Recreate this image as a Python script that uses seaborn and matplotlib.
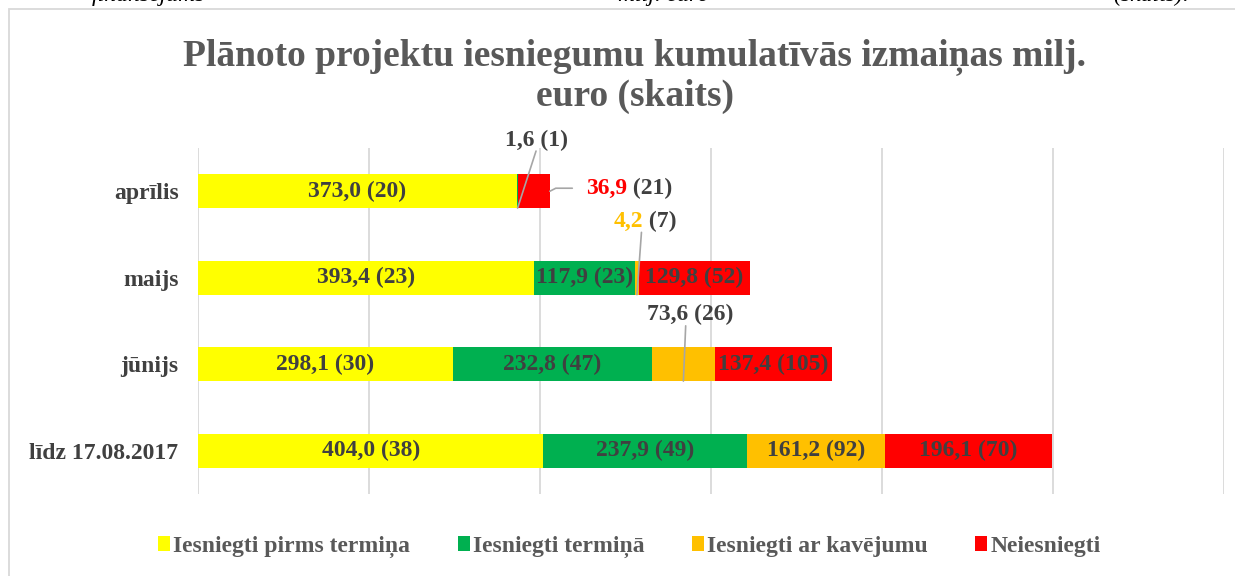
import matplotlib
matplotlib.use("Agg")
import matplotlib.pyplot as plt
import pandas as pd
import seaborn as sns
from matplotlib.patches import Patch, Rectangle

MONTHS = ["aprīlis", "maijs", "jūnijs", "līdz 17.08.2017"]
SERIES = ["Iesniegti pirms termiņa", "Iesniegti termiņā", "Iesniegti ar kavējumu", "Neiesniegti"]
COLORS = ["#FFFF00", "#00B050", "#FFC000", "#FF0000"]

# milj. euro
PIRMS = [373.0, 393.4, 298.1, 404.0]
TERMINA = [1.6, 117.9, 232.8, 237.9]
KAVEJUMS = [0.0, 4.2, 73.6, 161.2]
NEIESNIEGTI = [36.9, 129.8, 137.4, 196.1]

# skaits
PIRMS_N = [20, 23, 30, 38]
TERMINA_N = [1, 23, 47, 49]
KAVEJUMS_N = [0, 7, 26, 92]
NEIESNIEGTI_N = [21, 52, 105, 70]

DARK = "#404040"
GREY = "#595959"
LEADER = "#A6A6A6"
LABEL_SIZE = 17


def fmt(v):
    return f"{v:.1f}".replace(".", ",")


def setup_style():
    sns.set_theme(style="white")
    plt.rcParams["font.family"] = ["Liberation Serif", "DejaVu Serif"]
    plt.rcParams["font.weight"] = "bold"


def build_frame():
    values = [PIRMS, TERMINA, KAVEJUMS, NEIESNIEGTI]
    counts = [PIRMS_N, TERMINA_N, KAVEJUMS_N, NEIESNIEGTI_N]
    df = pd.DataFrame({"month": MONTHS})
    left = [0.0] * len(MONTHS)
    for i, (vals, ns) in enumerate(zip(values, counts)):
        df[f"val{i}"] = vals
        df[f"n{i}"] = ns
        df[f"left{i}"] = left
        left = [a + b for a, b in zip(left, vals)]
        df[f"cum{i}"] = left
    return df


def callout(ax, xy, pos, parts, relpos, shrink=1, conn="arc3"):
    first, color = parts[0]
    t = ax.text(pos[0], pos[1], first, ha="left", va="center", color=color,
                fontsize=LABEL_SIZE, fontweight="bold")
    if len(parts) > 1:
        ax.annotate(parts[1][0], xy=(1, 0), xycoords=t, ha="left", va="bottom",
                    color=parts[1][1], fontsize=LABEL_SIZE, fontweight="bold")
    ax.annotate("", xy=xy, xycoords="data", xytext=relpos, textcoords=t,
                arrowprops=dict(arrowstyle="-", color=LEADER, lw=1.2,
                                shrinkA=shrink, shrinkB=0, connectionstyle=conn))


def main():
    setup_style()
    df = build_frame()

    fig = plt.figure(figsize=(12.35, 5.76), dpi=100)
    ax = fig.add_axes([198 / 1235, 1 - 494 / 576, 1026 / 1235, 346 / 576])

    # stacked bars: draw cumulative totals, widest first
    for i in reversed(range(4)):
        sns.barplot(data=df, x=f"cum{i}", y="month", order=MONTHS, orient="h",
                    color=COLORS[i], saturation=1, width=0.39, linewidth=0, ax=ax)

    ax.set_xlim(0, 1200)
    ax.set_ylim(3.5, -0.5)
    ax.set_xticks(range(0, 1201, 200))
    ax.set_xticklabels([])
    ax.xaxis.grid(True, color="#D9D9D9", lw=1.3)
    ax.yaxis.grid(False)
    ax.set_axisbelow(True)
    for s in ax.spines.values():
        s.set_visible(False)
    ax.set_xlabel("")
    ax.set_ylabel("")
    ax.tick_params(axis="both", length=0)
    ax.tick_params(axis="y", pad=14, labelsize=17, labelcolor=DARK)
    for lab in ax.get_yticklabels():
        lab.set_fontweight("bold")

    outside = {(1, 0), (3, 0), (2, 0), (2, 1), (2, 2)}
    for r in range(len(MONTHS)):
        for i in range(4):
            if (i, r) in outside:
                continue
            v = df.loc[r, f"val{i}"]
            ax.text(df.loc[r, f"left{i}"] + v / 2, r, f"{fmt(v)} ({df.loc[r, f'n{i}']})",
                    ha="center", va="center", color=DARK, fontsize=LABEL_SIZE,
                    fontweight="bold")

    half = 0.39 / 2
    # aprīlis, termiņā
    v, l = df.loc[0, "val1"], df.loc[0, "left1"]
    callout(ax, (l + v / 2, half), (359, -0.59),
            [(f"{fmt(v)} ({df.loc[0, 'n1']})", DARK)], (0.5, 0.05))
    # aprīlis, neiesniegti
    v, l = df.loc[0, "val3"], df.loc[0, "left3"]
    callout(ax, (l + v, 0), (454, -0.035),
            [(fmt(v), "#FF0000"), (f" ({df.loc[0, 'n3']})", DARK)], (0, 0.5),
            shrink=10, conn="angle,angleA=0,angleB=27,rad=0")
    # maijs, kavējums
    v, l = df.loc[1, "val2"], df.loc[1, "left2"]
    callout(ax, (l + v / 2, 1 + half), (486, 0.35),
            [(fmt(v), "#FFC000"), (f" ({df.loc[1, 'n2']})", DARK)], (0.95, 0.05))
    # jūnijs, kavējums
    v, l = df.loc[2, "val2"], df.loc[2, "left2"]
    callout(ax, (l + v / 2, 2 + half), (525, 1.43),
            [(f"{fmt(v)} ({df.loc[2, 'n2']})", DARK)], (0.45, 0.05))

    fig.text(0.514, 1 - 38 / 576,
             "Plānoto projektu iesniegumu kumulatīvās izmaiņas milj.\neuro (skaits)",
             ha="center", va="top", fontsize=27, fontweight="bold", color=GREY,
             linespacing=1.15)

    handles = [Patch(facecolor=c, edgecolor="none") for c in COLORS]
    leg = fig.legend(handles, SERIES, loc="center", bbox_to_anchor=(0.5097, 1 - 547 / 576),
                     ncol=4, frameon=False, handlelength=0.5, handleheight=0.55,
                     handletextpad=0.15, columnspacing=2.0, fontsize=17)
    for t in leg.get_texts():
        t.set_color(GREY)
        t.set_fontweight("bold")

    # chart frame and the cropped line of the surrounding page
    fig.add_artist(Rectangle((9 / 1235, -0.1), 1.5, 0.1 + 567 / 576, transform=fig.transFigure,
                             fill=False, edgecolor="#D9D9D9", lw=1.3))
    for txt, xr in [("finansējums", 205), ("milj. euro", 709), ("(skaits).", 1189)]:
        fig.text(xr / 1235, 1 - 1.5 / 576, txt, ha="right", va="baseline",
                 fontsize=17, style="italic", fontweight="normal", color="black")

    fig.savefig("out.png", dpi=100)
    plt.close(fig)


if __name__ == "__main__":
    main()
